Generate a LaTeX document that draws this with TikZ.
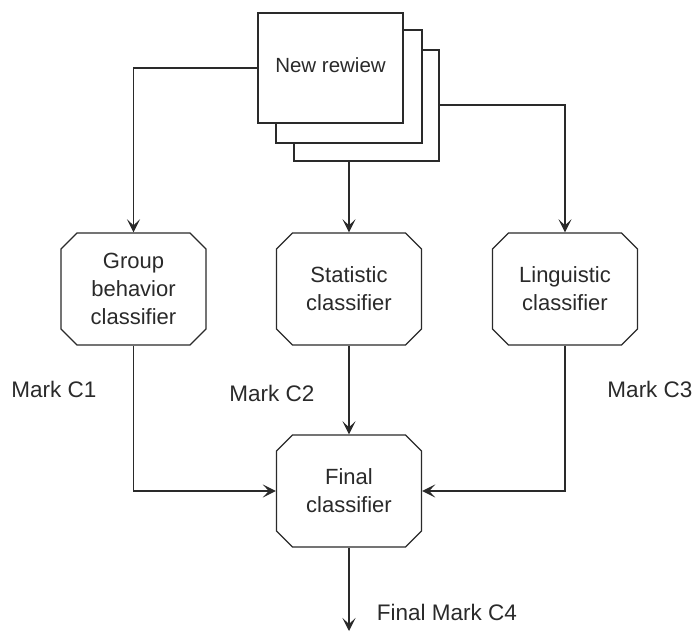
\documentclass[tikz,border=0pt]{standalone}
\usepackage{fontspec}
\setmainfont{Liberation Sans}
\usetikzlibrary{shapes.misc,arrows.meta}
\definecolor{ink}{HTML}{2A2A2A}
\begin{document}
\begin{tikzpicture}[x=1pt,y=-1pt,
  line/.style={draw=ink,line width=1.4pt},
  arr/.style={line,-{Stealth[length=13pt,width=13pt,inset=6pt]}},
  clf/.style={line,fill=white,chamfered rectangle,chamfered rectangle xsep=8pt,chamfered rectangle ysep=8pt,
    minimum width=145pt,minimum height=112pt,inner sep=0pt,align=center,text=ink,
    font=\fontsize{22}{28}\selectfont},
  sheet/.style={line,fill=white,rectangle,inner sep=0pt},
  lbl/.style={text=ink,font=\fontsize{22.5}{26}\selectfont,inner sep=0pt}]
\useasboundingbox (0,0) rectangle (697,632);
% stacked sheets
\node[sheet,minimum width=145pt,minimum height=111pt] (s3) at (366.5,105.5) {};
\node[sheet,minimum width=146pt,minimum height=113pt] (s2) at (349,86.5) {};
\node[sheet,minimum width=145pt,minimum height=110pt,text=ink,font=\fontsize{20.5}{24}\selectfont] (rev) at (330.5,68) {\raisebox{5pt}{New rewiew}};
% classifiers
\node[clf] (grp) at (133.5,289) {Group\\behavior\\classifier};
\node[clf] (sta) at (349,289) {Statistic\\classifier};
\node[clf] (lin) at (565,289) {Linguistic\\classifier};
\node[clf] (fin) at (349,491) {Final\\classifier};
% end coordinates
\coordinate (out) at (349,631);
\coordinate (lt) at (133.5,68);
\coordinate (rt) at (565,105);
% connectors
\draw[arr] (rev.west) -- (lt) -- (grp.north);
\draw[arr] (s3.south -| sta.north) -- (sta.north);
\draw[arr] (s3.east |- rt) -- (rt) -- (lin.north);
\draw[arr] (sta.south) -- (fin.north);
\draw[arr] (grp.south) |- (fin.west);
\draw[arr] (lin.south) |- (fin.east);
\draw[arr] (fin.south) -- (out);
% labels
\node[lbl] (m1) at (54,389) {Mark C1};
\node[lbl] (m2) at (272,393) {Mark C2};
\node[lbl] (m3) at (650,389) {Mark C3};
\node[lbl] (m4) at (447,612) {Final Mark C4};
\end{tikzpicture}
\end{document}
